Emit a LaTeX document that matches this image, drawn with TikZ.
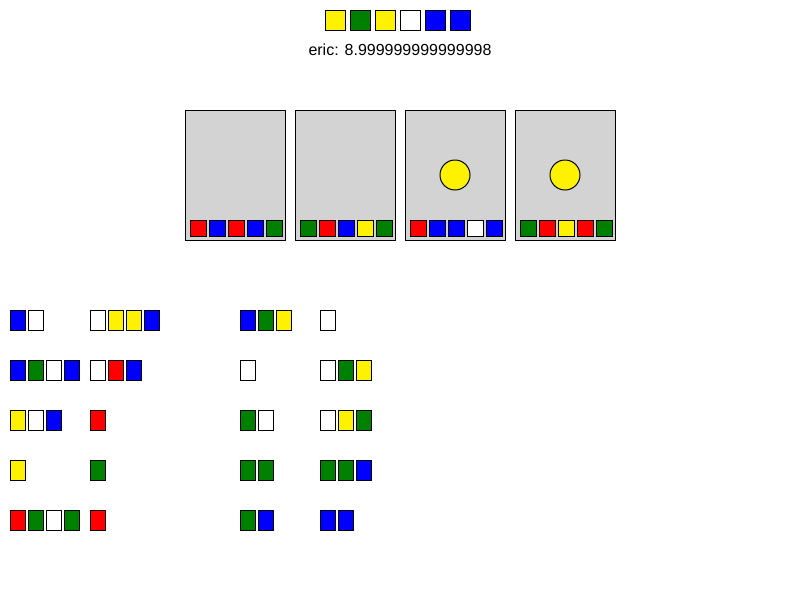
\documentclass[tikz,border=0pt]{standalone}
\usepackage{fontspec}
\setmainfont{Liberation Sans}
\definecolor{webgreen}{RGB}{0,128,0}
\definecolor{cardgray}{RGB}{211,211,211}
\begin{document}
\begin{tikzpicture}[x = 1pt, y = -1pt, line width = 1pt]
		\useasboundingbox (0, 0) rectangle (800, 600);
		% hand
		\foreach \i/\color in {0/yellow, 1/webgreen, 2/yellow, 3/white, 4/blue, 5/blue}{
			\draw[fill = \color] (325 + 25 * \i, 10) rectangle ++(20, 20);}
		\node[font = \fontsize{16}{19}\selectfont] (score) at (400, 50) {eric: 8.999999999999998};
		% cards
		\foreach \c/\dot/\colors in {0/0/{red, blue, red, blue, webgreen}, 1/0/{webgreen, red, blue, yellow, webgreen}, 2/1/{red, blue, blue, white, blue}, 3/1/{webgreen, red, yellow, red, webgreen}}{
			\draw[fill = cardgray] (185 + 110 * \c, 110) rectangle ++(100, 130);
			\ifnum\dot=1 \draw[fill = yellow] (235 + 110 * \c, 175) circle (15); \fi
			\foreach \color [count = \i from 0] in \colors{
				\draw[fill = \color] (190 + 110 * \c + 19 * \i, 220) rectangle ++(16, 16);}}
		% piles
		\foreach \x/\y/\colors in {10/310/{blue, white}, 10/360/{blue, webgreen, white, blue}, 10/410/{yellow, white, blue}, 10/460/{yellow}, 10/510/{red, webgreen, white, webgreen},
				90/310/{white, yellow, yellow, blue}, 90/360/{white, red, blue}, 90/410/{red}, 90/460/{webgreen}, 90/510/{red},
				240/310/{blue, webgreen, yellow}, 240/360/{white}, 240/410/{webgreen, white}, 240/460/{webgreen, webgreen}, 240/510/{webgreen, blue},
				320/310/{white}, 320/360/{white, webgreen, yellow}, 320/410/{white, yellow, webgreen}, 320/460/{webgreen, webgreen, blue}, 320/510/{blue, blue}}{
			\foreach \color [count = \i from 0] in \colors{
				\draw[fill = \color] (\x + 18 * \i, \y) rectangle ++(15, 20);}}
\end{tikzpicture}
\end{document}
